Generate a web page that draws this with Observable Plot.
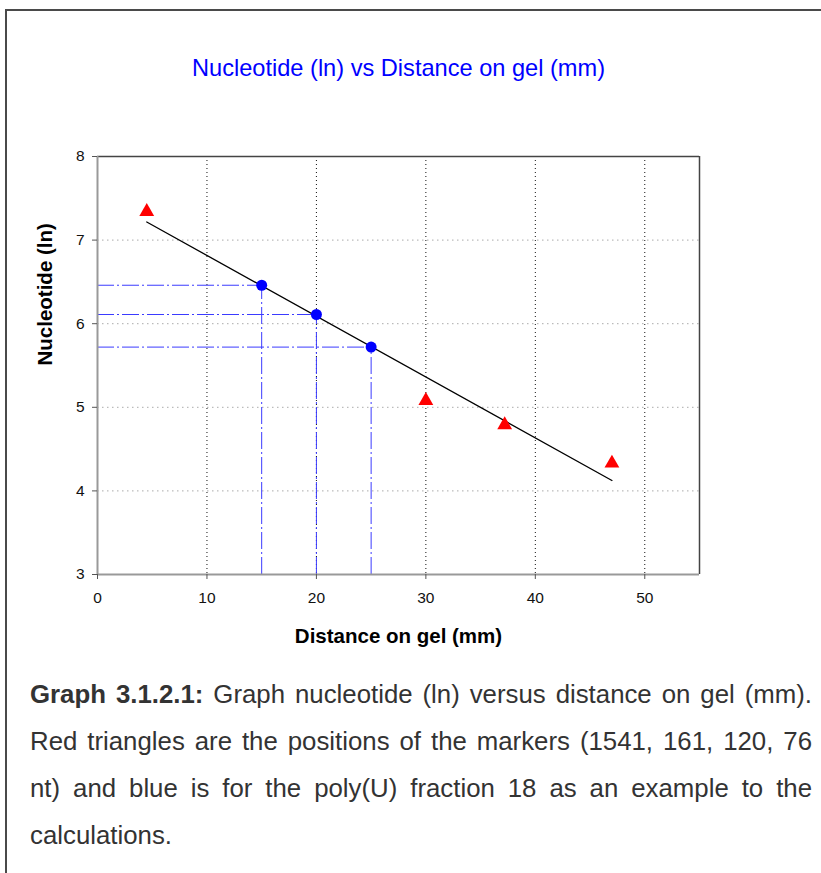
<!DOCTYPE html>
<html>
<head>
<meta charset="utf-8">
<script src="https://cdn.jsdelivr.net/npm/d3@7"></script>
<script src="https://cdn.jsdelivr.net/npm/@observablehq/plot@0.6"></script>
<style>
  html, body { margin: 0; padding: 0; background: #fff; }
  #page { position: relative; width: 821px; height: 873px; overflow: hidden; background: #fff; }
  #frame { position: absolute; left: 5px; top: 9px; width: 830px; height: 880px;
           border-left: 2px solid #4a4a4a; border-top: 2px solid #4a4a4a; }
  #chart { position: absolute; left: 0; top: 0; }
  #caption { position: absolute; left: 30px; top: 671px; width: 782px;
             font-family: "Liberation Sans", Arial, sans-serif; font-size: 25.8px;
             line-height: 47px; color: #333; text-align: justify; }
  #caption b { color: #333; }
</style>
</head>
<body>
<div id="page">
  <div id="frame"></div>
  <div id="chart"></div>
  <div id="caption"><b>Graph 3.1.2.1:</b> Graph nucleotide (ln) versus distance on gel (mm). Red triangles are the positions of the markers (1541, 161, 120, 76 nt) and blue is for the poly(U) fraction 18 as an example to the calculations.</div>
</div>
<script>
// Size markers: migration distance (mm) and ln of their length in nucleotides
const markerDistance = [4.5, 30, 37.2, 47];
const markerLn = [7.34, 5.08, 4.79, 4.33];

// Poly(U) fraction 18
const sampleDistance = [15, 20, 25];
const sampleLn = [6.46, 6.11, 5.72];

// Axis ticks
const xTicks = [0, 10, 20, 30, 40, 50];
const yTicks = [3, 4, 5, 6, 7, 8];
const xGrid = [10, 20, 30, 40, 50];
const yGrid = [4, 5, 6, 7];

const markers = markerDistance.map((d, i) => ({distance: d, ln: markerLn[i]}));
const samples = sampleDistance.map((d, i) => ({distance: d, ln: sampleLn[i]}));

const guide = {stroke: "#3b3bff", strokeWidth: 1, strokeDasharray: "17,3,2,3"};
const font = "'Liberation Sans', Arial, sans-serif";
const noLabel = () => "";

const chart = Plot.plot({
  width: 821,
  height: 660,
  marginLeft: 97,
  marginRight: 122,
  marginTop: 156,
  marginBottom: 86,
  style: {fontFamily: font, fontSize: "15.5px", color: "#111", background: "transparent"},
  x: {domain: [0, 55], label: null},
  y: {domain: [3, 8], label: null},
  marks: [
    // dotted grid
    Plot.ruleX(xGrid, {stroke: "#111", strokeWidth: 1, strokeDasharray: "1,3"}),
    Plot.ruleY(yGrid, {stroke: "#aaa", strokeWidth: 1, strokeDasharray: "1.5,3.5"}),
    // plot frame: dark top/right, grey axis lines
    Plot.ruleY([8], {stroke: "#444", strokeWidth: 1.5}),
    Plot.ruleX([55], {stroke: "#444", strokeWidth: 1.5}),
    // dash-dot read-off guides for the sample
    Plot.ruleY(samples, {y: "ln", x1: 0, x2: "distance", ...guide}),
    Plot.ruleX(samples, {x: "distance", y1: 3, y2: "ln", ...guide}),
    Plot.ruleX([0], {stroke: "#999", strokeWidth: 2}),
    Plot.ruleY([3], {stroke: "#999", strokeWidth: 2}),
    // tick marks from the axes, numbers as text marks on the same scales
    Plot.axisX({ticks: xTicks, stroke: "#555", tickSize: 5, label: null, tickFormat: noLabel}),
    Plot.axisY({ticks: yTicks, stroke: "#555", tickSize: 5, label: null, tickFormat: noLabel}),
    Plot.text(xTicks, {x: (d) => d, y: 3, dy: 24, text: (d) => String(d), fontSize: 15.5, fill: "#111", lineAnchor: "middle"}),
    Plot.text(yTicks, {y: (d) => d, x: 0, dx: -13, text: (d) => String(d), fontSize: 15.5, fill: "#111", textAnchor: "end", lineAnchor: "middle"}),
    // calibration line fitted through the markers
    Plot.linearRegressionY(markers, {x: "distance", y: "ln", ci: 0, stroke: "#000", strokeWidth: 1.3}),
    Plot.dot(markers, {x: "distance", y: "ln", symbol: "triangle", r: 5.5, fill: "#ff0000", stroke: null}),
    Plot.dot(samples, {x: "distance", y: "ln", r: 5.5, fill: "#0000ff", stroke: null}),
    // titles
    Plot.text(["Nucleotide (ln) vs Distance on gel (mm)"], {frameAnchor: "top", dy: -88, fill: "#0000ff", fontSize: 23.6, lineAnchor: "middle"}),
    Plot.text(["Distance on gel (mm)"], {frameAnchor: "bottom", dy: 62, fill: "#000", fontSize: 20.5, fontWeight: "bold", lineAnchor: "middle"}),
    Plot.text(["Nucleotide (ln)"], {frameAnchor: "left", dx: -52, rotate: -90, fill: "#000", fontSize: 20.5, fontWeight: "bold", lineAnchor: "middle"})
  ]
});

document.getElementById("chart").appendChild(chart);
</script>
</body>
</html>
